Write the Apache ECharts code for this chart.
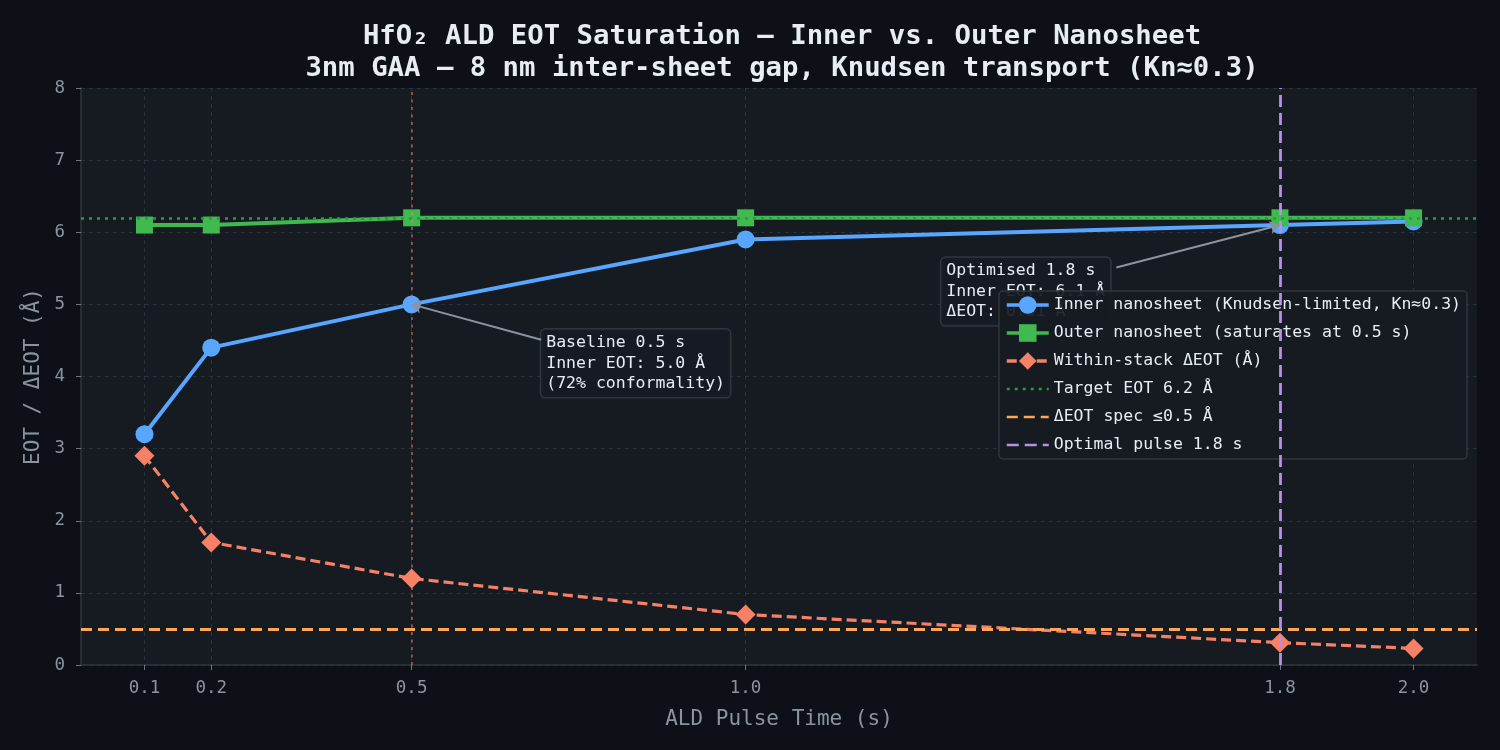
<!DOCTYPE html>
<html>
<head>
<meta charset="utf-8">
<script src="https://cdn.jsdelivr.net/npm/echarts@6/dist/echarts.min.js"></script>
<style>
  html, body { margin: 0; background: #0d1117; }
  #chart { width: 1500px; height: 750px; }
</style>
</head>
<body>
<div id="chart"></div>
<script>
// pulse time on x, EOT values in Å
var pulseTimes = [0.1, 0.2, 0.5, 1.0, 1.8, 2.0]
var innerEot = [3.2, 4.4, 5.0, 5.9, 6.1, 6.15]
var outerEot = [6.1, 6.1, 6.2, 6.2, 6.2, 6.2]
var deltaEot = [2.9, 1.7, 1.2, 0.7, 0.31, 0.23]

var targetEot = 6.2
var deltaSpec = 0.5
var baselinePulse = 0.5
var optimalPulse = 1.8

var seriesNames = [
  'Inner nanosheet (Knudsen-limited, Kn≈0.3)',
  'Outer nanosheet (saturates at 0.5 s)',
  'Within-stack ΔEOT (Å)',
  'Target EOT 6.2 Å',
  'ΔEOT spec ≤0.5 Å',
  'Optimal pulse 1.8 s'
]

var annotations = [
  { text: 'Baseline 0.5 s\nInner EOT: 5.0 Å\n(72% conformality)', point: [0.5, 5.0], box: [0.694, 4.65], tail: [0.694, 4.51] },
  { text: 'Optimised 1.8 s\nInner EOT: 6.1 Å\nΔEOT: 0.31 Å', point: [1.8, 6.1], box: [1.293, 5.645], tail: [1.555, 5.51] }
]

var MONO = 'DejaVu Sans Mono'
var chart = echarts.init(document.getElementById('chart'))

function pairs(ys) {
  return pulseTimes.map(function(x, i) { return [x, ys[i]] })
}

function refLine(name, color, width, type, mark) {
  return {
    name: name,
    type: 'line',
    data: [],
    symbol: 'none',
    z: 4,
    lineStyle: { color: color, width: width, type: type },
    itemStyle: { color: color },
    markLine: {
      silent: true,
      symbol: 'none',
      animation: false,
      label: { show: false },
      lineStyle: { color: color, width: width, type: type },
      data: [mark]
    }
  }
}

// legend entries: the three reference lines show only a line, no marker
var legendData = seriesNames.map(function(n, i) {
  return i < 3
    ? { name: n, lineStyle: { width: 3.5 } }
    : { name: n, itemStyle: { opacity: 0 }, lineStyle: { width: 2.5 } }
})

var option = {
  backgroundColor: '#0d1117',
  animation: false,
  title: {
    text: 'HfO₂ ALD EOT Saturation — Inner vs. Outer Nanosheet\n3nm GAA — 8 nm inter-sheet gap, Knudsen transport (Kn≈0.3)',
    left: 777,
    top: 16,
    textAlign: 'center',
    textStyle: {
      color: '#e6edf3',
      fontFamily: MONO,
      fontWeight: 'bold',
      fontSize: 27.3,
      lineHeight: 32
    }
  },
  grid: {
    left: 81,
    right: 23,
    top: 88,
    bottom: 85,
    show: true,
    backgroundColor: '#161b22',
    borderWidth: 0
  },
  legend: {
    orient: 'vertical',
    left: 999,
    top: 291,
    data: legendData,
    backgroundColor: 'rgba(22,27,34,0.92)',
    borderColor: '#30363d',
    borderWidth: 1.5,
    borderRadius: 4,
    padding: [5, 6, 5, 6],
    itemWidth: 42,
    itemHeight: 22,
    itemGap: 10,
    textStyle: { color: '#e6edf3', fontFamily: MONO, fontSize: 16.5, lineHeight: 18 }
  },
  xAxis: {
    type: 'value',
    min: 0.005,
    max: 2.095,
    name: 'ALD Pulse Time (s)',
    nameLocation: 'middle',
    nameGap: 44,
    nameTextStyle: { color: '#8b949e', fontFamily: MONO, fontSize: 21 },
    axisLine: { show: true, lineStyle: { color: '#30363d', width: 1.5 } },
    axisTick: { show: true, length: 5, customValues: pulseTimes, lineStyle: { color: '#6e7681' } },
    axisLabel: {
      customValues: pulseTimes,
      margin: 14,
      color: '#8b949e',
      fontFamily: MONO,
      fontSize: 17.5,
      formatter: function(v) { return v.toFixed(1) }
    },
    splitLine: {
      show: true,
      customValues: pulseTimes,
      lineStyle: { color: '#2a3038', type: [4, 4], width: 1 }
    }
  },
  yAxis: {
    type: 'value',
    min: 0,
    max: 8,
    interval: 1,
    name: 'EOT / ΔEOT (Å)',
    nameLocation: 'middle',
    nameGap: 36,
    nameTextStyle: { color: '#8b949e', fontFamily: MONO, fontSize: 21 },
    axisLine: { show: true, lineStyle: { color: '#30363d', width: 1.5 } },
    axisTick: { show: true, length: 5, lineStyle: { color: '#6e7681' } },
    axisLabel: { margin: 16, color: '#8b949e', fontFamily: MONO, fontSize: 17.5 },
    splitLine: { show: true, lineStyle: { color: '#2a3038', type: [4, 4], width: 1 } }
  },
  series: [
    {
      name: seriesNames[0],
      type: 'line',
      data: pairs(innerEot),
      symbol: 'circle',
      symbolSize: 18,
      z: 3,
      lineStyle: { color: '#58a6ff', width: 4 },
      itemStyle: { color: '#58a6ff' }
    },
    {
      name: seriesNames[1],
      type: 'line',
      data: pairs(outerEot),
      symbol: 'rect',
      symbolSize: 17,
      z: 3,
      lineStyle: { color: '#3fb950', width: 4 },
      itemStyle: { color: '#3fb950' }
    },
    {
      name: seriesNames[2],
      type: 'line',
      data: pairs(deltaEot),
      symbol: 'diamond',
      symbolSize: [20, 20],
      z: 3,
      lineStyle: { color: '#f78166', width: 3.2, type: [10, 5] },
      itemStyle: { color: '#f78166' }
    },
    refLine(seriesNames[3], '#2a9a3e', 2.5, [3, 5], { yAxis: targetEot }),
    refLine(seriesNames[4], '#ffa657', 3, [11, 6], { yAxis: deltaSpec }),
    refLine(seriesNames[5], '#b490e8', 2.8, [12, 6], { xAxis: optimalPulse }),
    {
      name: 'annotations',
      type: 'line',
      data: [],
      z: 4,
      markLine: {
        silent: true,
        animation: false,
        label: { show: false },
        symbol: 'none',
        data: [
          { xAxis: baselinePulse, lineStyle: { color: 'rgba(247,129,102,0.5)', width: 2, type: [3, 4.5] } }
        ].concat(annotations.map(function(a) {
          return [
            { coord: a.tail, symbol: 'none', lineStyle: { color: '#8b949e', width: 2, type: 'solid' } },
            { coord: a.point, symbol: 'arrow', symbolSize: 10 }
          ]
        }))
      }
    }
  ]
}

chart.setOption(option)

var boxes = annotations.map(function(a) {
  var p = chart.convertToPixel({ gridIndex: 0 }, a.box)
  return {
    type: 'text',
    x: p[0],
    y: p[1],
    z: 3,
    silent: true,
    style: {
      text: a.text,
      fill: '#e6edf3',
      font: '16.5px "DejaVu Sans Mono"',
      lineHeight: 20.5,
      backgroundColor: 'rgba(22,27,34,0.9)',
      borderColor: '#30363d',
      borderWidth: 1.5,
      borderRadius: 4,
      padding: [3, 5, 3, 5]
    }
  }
})
chart.setOption({ graphic: boxes })
</script>
</body>
</html>
